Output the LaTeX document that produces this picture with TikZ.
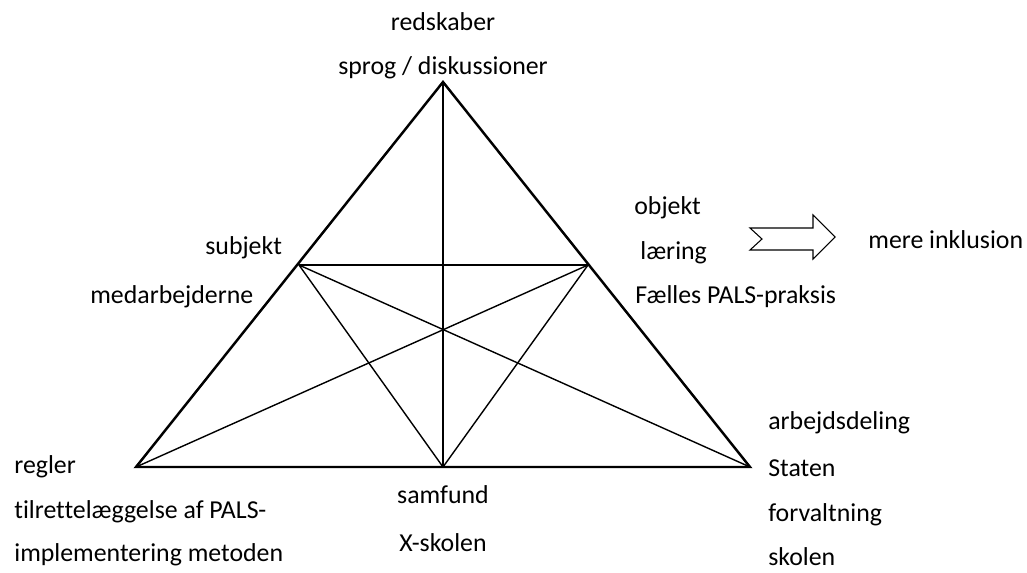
\documentclass[tikz,border=0pt]{standalone}
\usepackage{fontspec}
\setmainfont[Ligatures=NoCommon]{Carlito}
\usepackage{tikz}
\usetikzlibrary{positioning}

\begin{document}
\begin{tikzpicture}[
    x=0.02cm, y=-0.02cm,
    lbl/.style={
        inner sep=0pt,
        font=\fontsize{14.7}{17}\selectfont
    },
    edge/.style={
        line width=1.4pt,
        line join=miter
    },
    inner/.style={
        line width=0.8pt
    }
]

\useasboundingbox (0,0) rectangle (1027,572);

% ==================================================
% Triangle corners
% ==================================================

\coordinate (top) at (443,82);
\coordinate (left) at (136,467);
\coordinate (right) at (750,467);
\coordinate (midleft) at (299,265);
\coordinate (midright) at (588,265);
\coordinate (bottom) at (443,467);

% ==================================================
% Labels
% ==================================================

\node[lbl] (tool) at (443,22) {redskaber};
\node[lbl] (tooltxt) at (443,68) {sprog / diskussioner};

\node[lbl, anchor=west] (subj) at (205,248) {subjekt};
\node[lbl, anchor=west] (subjtxt) at (90,297) {medarbejderne};

\node[lbl, anchor=west] (obj) at (634,208) {objekt};
\node[lbl, anchor=west] (objtxt) at (640,253) {læring};
\node[lbl, anchor=west] (objtxt2) at (635,297) {Fælles PALS-praksis};

\node[lbl, anchor=west] (outcome) at (868,240) {mere inklusion};

\node[lbl, anchor=west] (rules) at (14,467) {regler};
\node[lbl, anchor=west] (rulestxt) at (14,512) {tilrettelæggelse af PALS-};
\node[lbl, anchor=west] (rulestxt2) at (14,555) {implementering metoden};

\node[lbl] (comm) at (443,495) {samfund};
\node[lbl] (commtxt) at (443,543) {X-skolen};

\node[lbl, anchor=west] (div) at (768,423) {arbejdsdeling};
\node[lbl, anchor=west] (divtxt) at (768,468) {Staten};
\node[lbl, anchor=west] (divtxt2) at (768,515) {forvaltning};
\node[lbl, anchor=west] (divtxt3) at (768,557) {skolen};

% ==================================================
% Inner lines
% ==================================================

\draw[inner] (top) -- (bottom);
\draw[inner] (midleft) -- (midright);
\draw[inner] (midleft) -- (bottom);
\draw[inner] (midright) -- (bottom);
\draw[inner] (left) -- (midright);
\draw[inner] (right) -- (midleft);

% Outer triangle
\draw[edge] (top) -- (left) -- (right) -- cycle;

% ==================================================
% Block arrow
% ==================================================

\draw[line width=0.6pt, line join=miter]
    (750,228) -- (813,228) -- (813,215) -- (835,237) -- (813,259)
    -- (813,250) -- (750,250) -- (762,239) -- cycle;

\end{tikzpicture}
\end{document}
